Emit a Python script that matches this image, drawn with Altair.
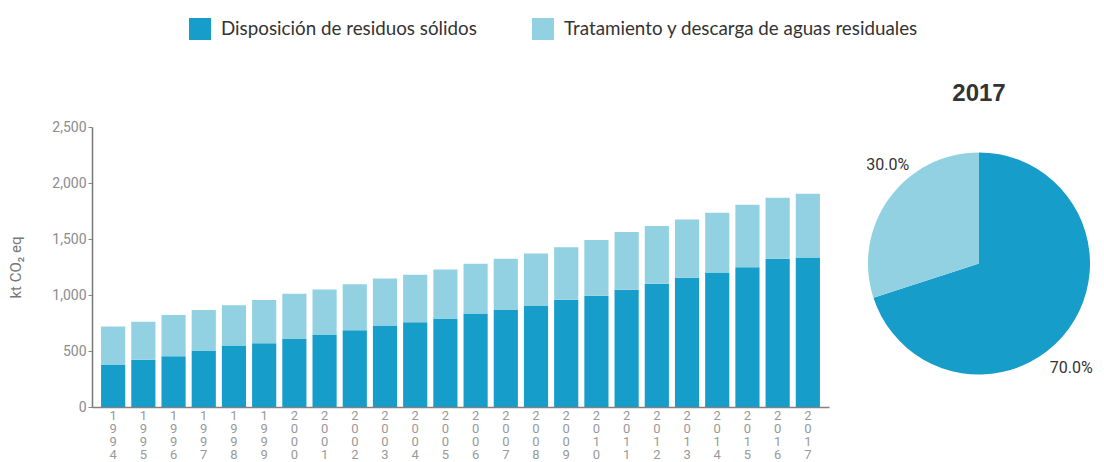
import altair as alt
import pandas as pd

years = [str(y) for y in range(1994, 2018)]
categorias = ["Disposición de residuos sólidos", "Tratamiento y descarga de aguas residuales"]
solidos = [374, 421, 454, 501, 549, 569, 608, 647, 685, 727, 756, 786,
           834, 866, 901, 958, 994, 1047, 1101, 1154, 1201, 1248, 1323, 1335]
aguas = [344, 341, 367, 365, 359, 386, 403, 403, 412, 421, 425, 442,
         444, 457, 469, 468, 498, 516, 516, 519, 534, 558, 545, 569]
pie_labels = ["70.0%", "30.0%"]
pie_values = [70.0, 30.0]
colores = ["#169dc9", "#92d1e2"]

rows = []
for i, y in enumerate(years):
    rows.append({"year": y, "cat": categorias[0], "value": solidos[i], "ord": 0})
    rows.append({"year": y, "cat": categorias[1], "value": aguas[i], "ord": 1})
df = pd.DataFrame(rows)

pie_df = pd.DataFrame({"cat": categorias, "pct": pie_values, "label": pie_labels, "ord": [0, 1]})

color_scale = alt.Scale(domain=categorias, range=colores)

bar = alt.Chart(df).mark_bar().encode(
    x=alt.X("year:N", sort=years,
            scale=alt.Scale(paddingInner=0.2, paddingOuter=0.3),
            axis=alt.Axis(title=None, labelAngle=0, labelExpr="split(datum.label, '')",
                          ticks=False, labelFontSize=13, labelColor="#999999",
                          labelFont="Roboto", labelLineHeight=13, labelPadding=2,
                          domainColor="#8a7f7f", domainWidth=1.5, labelBaseline="top")),
    y=alt.Y("value:Q", stack="zero", scale=alt.Scale(domain=[0, 2500]),
            axis=alt.Axis(title="kt CO₂ eq", values=[0, 500, 1000, 1500, 2000, 2500],
                          format=",d", grid=False, tickSize=4, tickColor="#888",
                          domainColor="#777", domainWidth=1.5, labelPadding=2,
                          labelFontSize=14, labelColor="#8c8c8c", labelFont="Roboto",
                          titleFontSize=15, titleFont="Roboto", titleFontWeight="normal",
                          titleColor="#777", titlePadding=28)),
    color=alt.Color("cat:N", scale=color_scale,
                    legend=alt.Legend(title=None, orient="none", direction="horizontal",
                                      legendX=97, legendY=-109,
                                      symbolType="square", symbolSize=484,
                                      symbolStrokeWidth=0, labelFontSize=18.8,
                                      labelFont="Lato", labelColor="#333",
                                      labelLimit=500,
                                      labelOffset=10, columnPadding=55)),
    order=alt.Order("ord:Q"),
).properties(width=737, height=280)

pie_base = alt.Chart(pie_df).encode(
    theta=alt.Theta("pct:Q", stack=True, scale=alt.Scale(domain=[0, 100])),
    color=alt.Color("cat:N", scale=color_scale, legend=None),
    order=alt.Order("ord:Q"),
)
arc = pie_base.mark_arc(outerRadius=111)

text_base = alt.Chart(pie_df).transform_window(
    cum="sum(pct)", sort=[alt.SortField("ord")]
).transform_calculate(mid="datum.cum - datum.pct / 2")

lab70 = text_base.transform_filter(alt.datum.ord == 0).mark_text(
    radius=140, dx=-21, dy=22, fontSize=16, font="Roboto", color="#333"
).encode(theta=alt.Theta("mid:Q", stack=None, scale=alt.Scale(domain=[0, 100])),
         text="label:N")
lab30 = text_base.transform_filter(alt.datum.ord == 1).mark_text(
    radius=140, dx=22, dy=-16, fontSize=16, font="Roboto", color="#333"
).encode(theta=alt.Theta("mid:Q", stack=None, scale=alt.Scale(domain=[0, 100])),
         text="label:N")

pie = alt.layer(arc, lab70, lab30).properties(
    width=226, height=273,
    title=alt.TitleParams("2017", fontSize=24, fontWeight="bold", font="Liberation Sans",
                          color="#333", offset=21, anchor="middle"),
)

chart = alt.hconcat(bar, pie, spacing=37, bounds="flush").configure_view(
    stroke=None
).properties(padding={"left": 0, "top": 10, "right": 0, "bottom": 0})

chart.save("out.html", embed_options={"renderer": "svg", "actions": False})
